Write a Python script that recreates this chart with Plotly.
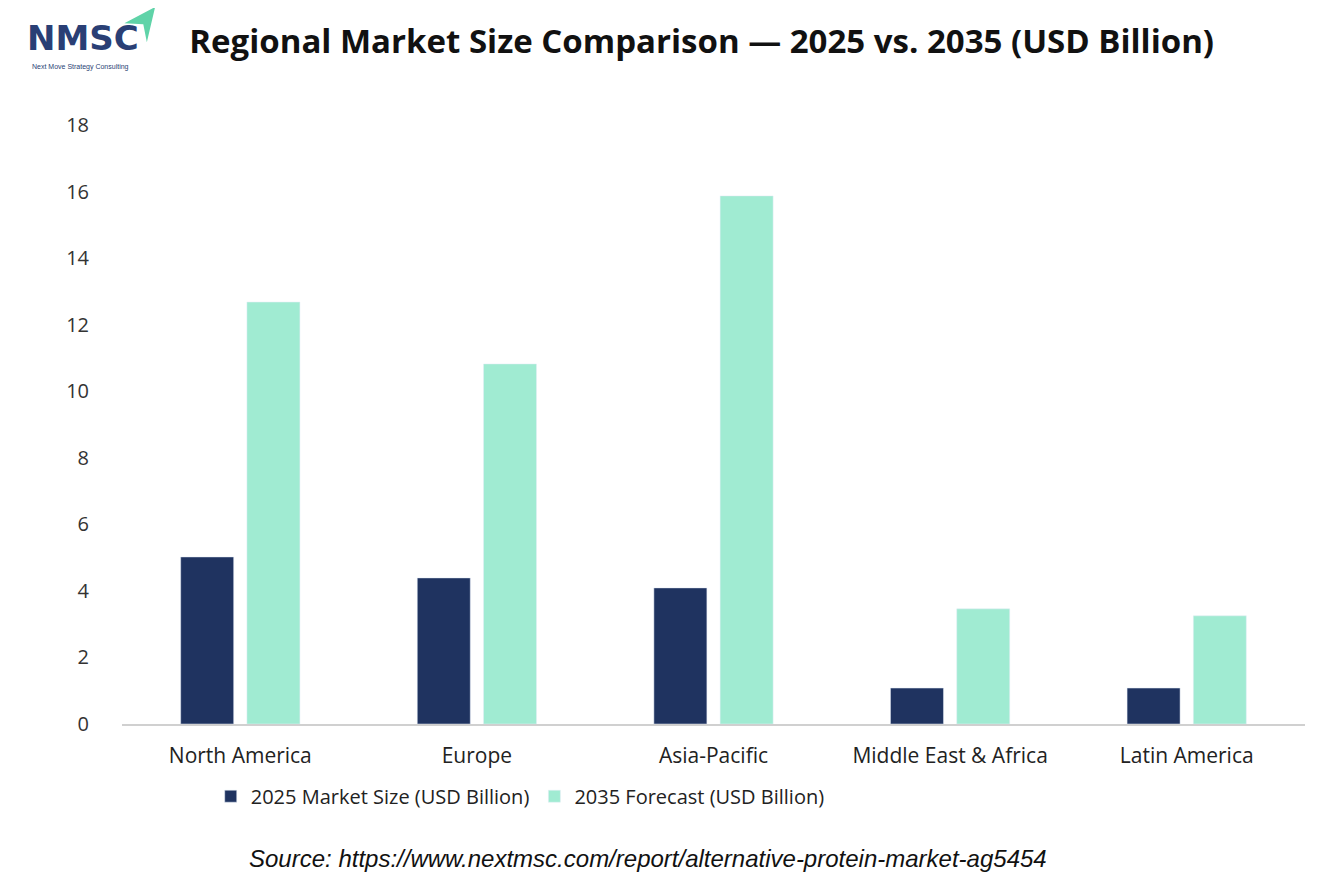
import plotly.graph_objects as go

regions = ["North America", "Europe", "Asia-Pacific", "Middle East & Africa", "Latin America"]
v2025 = [5.02, 4.39, 4.09, 1.08, 1.08]
v2035 = [12.68, 10.82, 15.87, 3.46, 3.25]
names = ["2025 Market Size (USD Billion)", "2035 Forecast (USD Billion)"]

fig = go.Figure()
fig.add_bar(x=regions, y=v2025, name=names[0], marker_color="#1F3360")
fig.add_bar(x=regions, y=v2035, name=names[1], marker_color="#A0EBD2")

fig.update_layout(
    width=1334, height=889, plot_bgcolor="white", paper_bgcolor="white",
    font=dict(family="Open Sans, sans-serif", size=20, color="#333"),
    barmode="group", bargap=0.44, bargroupgap=0.2,
    margin=dict(l=114, r=37, t=117, b=173),
    title=dict(text="<b>Regional Market Size Comparison — 2025 vs. 2035 (USD Billion)</b>",
               x=0.52, xanchor="center", y=0.962, yanchor="middle",
               font=dict(size=33, color="#111", family="Open Sans, sans-serif")),
    legend=dict(orientation="h", x=0.075, xanchor="left", y=-0.088, yanchor="top",
                font=dict(size=20, color="#222"), traceorder="normal"),
    showlegend=True,
)
fig.update_yaxes(range=[0, 18], dtick=2, showgrid=False, zeroline=False, showline=False,
                 tickfont=dict(size=20, color="#333"), ticklabelstandoff=32)
fig.update_xaxes(showline=True, linecolor="#d0d0d0", linewidth=1.5, tickfont=dict(size=21, color="#222"),
                 ticklabelstandoff=12)

fig.add_annotation(text="<i>Source: https://www.nextmsc.com/report/alternative-protein-market-ag5454</i>",
                   xref="paper", yref="paper", x=0.445, y=-0.225, yanchor="middle", showarrow=False,
                   font=dict(size=24, color="#111", family="Liberation Sans, Arial"))
# logo
fig.add_annotation(text="<b>NMSC</b>", xref="paper", yref="paper", xanchor="left", yanchor="middle",
                   x=-0.082, y=1.145, showarrow=False,
                   font=dict(size=34, color="#2a3f75", family="DejaVu Sans"))
fig.add_annotation(text="Next Move Strategy Consulting", xref="paper", yref="paper", xanchor="left", yanchor="middle",
                   x=-0.078, y=1.097, showarrow=False, font=dict(size=7, color="#2a3f75", family="Liberation Sans"))
fig.add_shape(type="path", xref="paper", yref="paper",
              path="M 0.028 1.197 L 0.002 1.17 L 0.018 1.168 L 0.021 1.138 Z",
              fillcolor="#5fd3a8", line_width=0)
fig.write_html("out.html")
